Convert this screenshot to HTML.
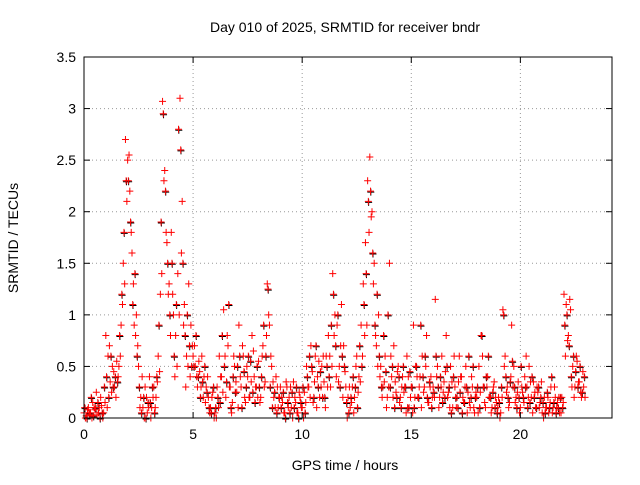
<!DOCTYPE html>
<html><head><meta charset="utf-8"><style>
body{margin:0;background:#fff;font-family:"Liberation Sans",sans-serif}
</style></head><body>
<svg id="chart" width="640" height="480" xmlns="http://www.w3.org/2000/svg">
<rect width="640" height="480" fill="#fff"/>
<text x="345" y="32" font-size="14" text-anchor="middle">Day 010 of 2025, SRMTID for receiver bndr</text>
<text x="345" y="470" font-size="14" text-anchor="middle">GPS time / hours</text>
<text x="18" y="238" font-size="14" text-anchor="middle" transform="rotate(-90 18 238)">SRMTID / TECUs</text>
<g id="grid"></g><g id="marks"></g>
<rect x="84" y="57" width="528" height="361" fill="none" stroke="#000"/>
<g id="ticks"></g>
</svg>
<script>
const xTicks=[0,5,10,15,20];
const yTicks=[0,0.5,1,1.5,2,2.5,3,3.5];
const yTickLabels=["0","0.5","1","1.5","2","2.5","3","3.5"];
const hours=[
0.0,0.1,0.2,0.3,0.4,0.5,0.6,0.7,0.8,0.9,
1.0,1.1,1.2,1.3,1.4,1.5,1.6,1.7,1.8,1.9,
2.0,2.1,2.2,2.3,2.4,2.5,2.6,2.7,2.8,2.9,
3.0,3.1,3.2,3.3,3.4,3.5,3.6,3.7,3.8,3.9,
4.0,4.1,4.2,4.3,4.4,4.5,4.6,4.7,4.8,4.9,
5.0,5.1,5.2,5.3,5.4,5.5,5.6,5.7,5.8,5.9,
6.0,6.1,6.2,6.3,6.4,6.5,6.6,6.7,6.8,6.9,
7.0,7.1,7.2,7.3,7.4,7.5,7.6,7.7,7.8,7.9,
8.0,8.1,8.2,8.3,8.4,8.5,8.6,8.7,8.8,8.9,
9.0,9.1,9.2,9.3,9.4,9.5,9.6,9.7,9.8,9.9,
10.0,10.1,10.2,10.3,10.4,10.5,10.6,10.7,10.8,10.9,
11.0,11.1,11.2,11.3,11.4,11.5,11.6,11.7,11.8,11.9,
12.0,12.1,12.2,12.3,12.4,12.5,12.6,12.7,12.8,12.9,
13.0,13.1,13.2,13.3,13.4,13.5,13.6,13.7,13.8,13.9,
14.0,14.1,14.2,14.3,14.4,14.5,14.6,14.7,14.8,14.9,
15.0,15.1,15.2,15.3,15.4,15.5,15.6,15.7,15.8,15.9,
16.0,16.1,16.2,16.3,16.4,16.5,16.6,16.7,16.8,16.9,
17.0,17.1,17.2,17.3,17.4,17.5,17.6,17.7,17.8,17.9,
18.0,18.1,18.2,18.3,18.4,18.5,18.6,18.7,18.8,18.9,
19.0,19.1,19.2,19.3,19.4,19.5,19.6,19.7,19.8,19.9,
20.0,20.1,20.2,20.3,20.4,20.5,20.6,20.7,20.8,20.9,
21.0,21.1,21.2,21.3,21.4,21.5,21.6,21.7,21.8,21.9,
22.0,22.1,22.2,22.3,22.4,22.5,22.6,22.7,22.8,22.9];
const valuesA=[
.05,.02,.1,.05,.15,.08,.03,.1,.12,.05,
.8,.6,.35,.5,.3,.55,.5,.9,1.5,2.7,
2.5,2.2,1.6,.9,1.0,.5,.2,.1,.3,.05,
.4,.1,.3,.2,.6,1.2,3.07,2.4,1.7,1.3,
1.8,1.0,.8,1.4,3.1,2.1,1.1,.6,1.3,.9,
.6,.5,.3,.45,.6,.4,.3,.2,.1,.25,
.05,.3,.6,.4,1.05,.2,.7,.3,.15,.5,
.25,.9,.3,.6,.15,.4,.2,.8,.4,.3,
.55,.2,.7,.35,1.3,.9,.5,.2,.4,.1,
.3,.15,.05,.3,.2,.1,.35,.15,.05,.2,
.1,.25,.5,.3,.7,.15,.6,.4,.2,.5,
.35,.6,.8,.3,1.4,1.0,.9,.5,1.1,.7,
.3,.2,.1,.3,.2,.6,.4,.9,1.3,1.7,
2.3,2.53,2.0,1.5,.7,1.0,.5,.3,.6,.2,
1.5,.4,.7,.25,.5,.2,.4,.3,.6,.1,
.3,.9,.5,.2,.4,.6,.3,.8,.15,.4,
.3,1.15,.5,.2,.6,.35,.8,.25,.5,.1,
.3,.2,.6,.4,.15,.5,.25,.1,.3,.05,
.2,.5,.8,.3,.1,.4,.2,.1,.35,.15,
.2,.05,1.05,.6,.3,.15,.9,.5,.2,.35,
.1,.25,.4,.3,.5,.2,.35,.1,.25,.15,
.05,.2,.1,.05,.3,.1,.2,.15,.05,.2,
1.2,1.1,.8,1.05,.5,.3,.55,.35,.2,.3];
const valuesB=[
.1,.0,.05,.2,.02,.1,.15,.0,.05,.3,
.4,.2,.6,.3,.4,.35,.8,1.2,1.8,2.3,
2.3,1.9,1.1,1.4,.6,.3,.05,.2,.0,.15,
.15,.3,.05,.4,.9,1.9,2.95,2.2,1.5,1.0,
1.5,.6,1.1,2.8,2.6,1.5,.8,1.0,.7,.5,
.5,.8,.4,.2,.35,.5,.25,.1,.05,.3,
.1,.2,.15,.8,.5,.35,1.1,.1,.4,.25,
.5,.6,.1,.45,.3,.6,.55,.25,.15,.5,
.3,.4,.9,.6,1.25,.3,.1,.25,.05,.2,
.1,.25,.0,.15,.05,.25,.1,.3,.0,.15,
.3,.05,.4,.6,.5,.2,.7,.3,.45,.2,
.2,.5,.4,.9,1.2,.7,1.0,.3,.6,.5,
.15,.05,.2,.4,.3,.1,.7,.5,1.1,1.4,
2.1,2.2,1.6,.9,1.2,.6,.3,.8,.45,1.0,
.3,.5,.1,.2,.4,.1,.5,.3,.1,.45,
.3,.1,.5,.2,.9,.4,.6,.2,.35,.1,
.25,.6,.3,.4,.15,.2,.5,.3,.05,.4,
.2,.1,.25,.05,.15,.3,.6,.2,.5,.2,
.3,.1,.8,.3,.4,.6,.2,.25,.1,.05,
.15,.3,1.0,.4,.2,.35,.55,.3,.1,.2,
.5,.2,.3,.1,.15,.4,.2,.1,.3,.2,
.15,.05,.25,.1,.4,.15,.05,.1,.2,.1,
.9,1.0,.7,.4,.6,.45,.3,.5,.25,.4];
const valuesC=[
.0,.08,.03,.0,.1,.25,.05,.2,.0,.15,
.1,.7,.25,.45,.2,.4,.6,1.1,1.3,2.1,
2.55,1.8,1.3,.8,.7,.1,.4,.0,.2,.1,
.0,.2,.1,.35,.45,1.4,2.3,1.8,1.2,.8,
1.2,.4,.5,1.0,1.6,.9,.3,.5,.4,.7,
.7,.4,.55,.3,.2,.15,.4,.05,.2,.0,
.0,.1,.4,.25,.6,.8,.3,.05,.6,.35,
.1,.4,.7,.2,.5,.2,.35,.65,.3,.2,
.15,.6,.3,.8,1.0,.6,.35,.1,.3,.2,
.2,.05,.35,.1,.3,.0,.2,.05,.25,.1,
.0,.15,.3,.2,.45,.35,.1,.55,.3,.6,
.1,.3,.6,.5,.8,.4,.35,.7,.2,.45,
.0,.3,.15,.05,.5,.25,.35,.6,.8,.9,
1.8,1.95,1.3,.8,.5,.4,.2,.35,.1,.3,
.6,.2,.35,.45,.15,.3,.25,.05,.4,.2,
.05,.2,.4,.3,.1,.25,.5,.15,.3,.2,
.2,.4,.1,.3,.25,.45,.2,.1,.35,.6,
.1,.35,.4,.2,.3,.05,.15,.4,.1,.25,
.05,.25,.6,.15,.3,.2,.05,.3,.2,.1,
.0,.2,.5,.25,.1,.4,.3,.15,.25,.05,
.3,.15,.6,.2,.35,.05,.25,.3,.1,.35,
.0,.1,.2,.15,.05,.3,.1,.2,.05,.15,
.6,.75,1.15,.3,.2,.6,.35,.25,.45,.2];
const x0=84,x1=612,y0=418,y1=57,xMax=24.2,yMax=3.5;
const sx=v=>x0+v/xMax*(x1-x0), sy=v=>y0-v/yMax*(y0-y1);
const NS="http://www.w3.org/2000/svg";
const grid=document.getElementById('grid'),ticks=document.getElementById('ticks'),marks=document.getElementById('marks');
function mk(p,tag,a){const e=document.createElementNS(NS,tag);for(const k in a)e.setAttribute(k,a[k]);p.appendChild(e);return e;}
xTicks.forEach(t=>{const x=sx(t);
 if(t>0){const g=mk(grid,'line',{x1:x,x2:x,y1:y0,y2:y1,stroke:'#999','stroke-dasharray':'1,3'});
 
 }
 mk(ticks,'line',{x1:x,x2:x,y1:y0,y2:y0-6,stroke:'#000'});mk(ticks,'line',{x1:x,x2:x,y1:y1,y2:y1+6,stroke:'#000'});
 const l=mk(ticks,'text',{x:x,y:y0+21,'font-size':14,'text-anchor':'middle'});l.textContent=t;
 
 });
yTicks.forEach((t,i)=>{const y=sy(t);
 if(t>0&&t<yMax){const g=mk(grid,'line',{x1:x0,x2:x1,y1:y,y2:y,stroke:'#999','stroke-dasharray':'1,3'});
 
 }
 mk(ticks,'line',{x1:x0,x2:x0+6,y1:y,y2:y,stroke:'#000'});mk(ticks,'line',{x1:x1,x2:x1-6,y1:y,y2:y,stroke:'#000'});
 const l=mk(ticks,'text',{x:x0-8,y:y+5,'font-size':14,'text-anchor':'end'});l.textContent=yTickLabels[i];
 
 });
function plus(x,y,c){const p=mk(marks,'path',{d:`M${x-3.5},${y}h7M${x},${y-3.5}v7`,stroke:c,'stroke-width':1});
 
 }
hours.forEach((h,i)=>{plus(sx(h)+1,sy(valuesB[i])+1,'#000');});
hours.forEach((h,i)=>{
 plus(sx(h),sy(valuesA[i]),'#f00');
 plus(sx(h)+0.7,sy(valuesB[i]),'#f00');
 plus(sx(h)+1.4,sy(valuesC[i]),'#f00');});
</script>
</body></html>
